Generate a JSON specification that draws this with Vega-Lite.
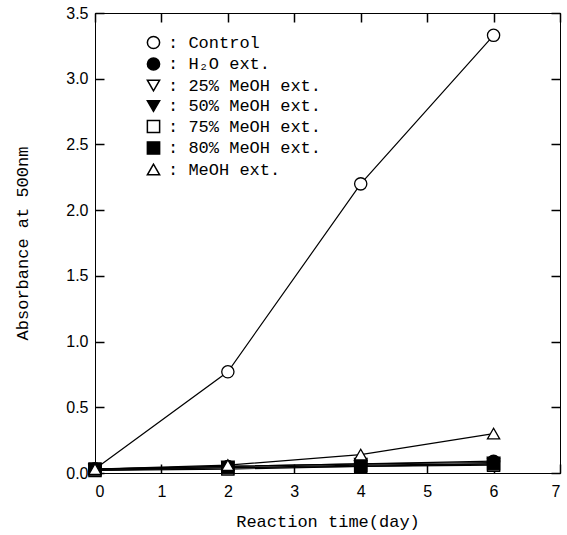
{
  "$schema": "https://vega.github.io/schema/vega-lite/v6.json",
  "width": 465,
  "height": 460,
  "autosize": {"type": "none"},
  "padding": {"left": 95, "top": 13, "right": 7, "bottom": 62},
  "background": "white",
  "config": {
    "view": {"stroke": "black", "strokeWidth": 1},
    "axis": {
      "grid": false,
      "ticks": true,
      "zindex": 1,
      "domainColor": "black",
      "tickColor": "black",
      "tickOpacity": 1,
      "tickWidth": 1.5,
      "tickSize": -9,
      "labelPadding": 16,
      "labelFont": "Liberation Sans",
      "labelFontSize": 16,
      "labelColor": "black",
      "titleFont": "Liberation Mono",
      "titleFontSize": 17,
      "titleFontWeight": "normal",
      "titleColor": "black"
    }
  },
  "data": {
    "values": [
      {"series": "Control", "day": 0, "abs": 0.03},
      {"series": "Control", "day": 2, "abs": 0.77},
      {"series": "Control", "day": 4, "abs": 2.2},
      {"series": "Control", "day": 6, "abs": 3.33},
      {"series": "H₂O ext.", "day": 0, "abs": 0.03},
      {"series": "H₂O ext.", "day": 2, "abs": 0.05},
      {"series": "H₂O ext.", "day": 4, "abs": 0.07},
      {"series": "H₂O ext.", "day": 6, "abs": 0.09},
      {"series": "25% MeOH ext.", "day": 0, "abs": 0.02},
      {"series": "25% MeOH ext.", "day": 2, "abs": 0.04},
      {"series": "25% MeOH ext.", "day": 4, "abs": 0.05},
      {"series": "25% MeOH ext.", "day": 6, "abs": 0.07},
      {"series": "50% MeOH ext.", "day": 0, "abs": 0.03},
      {"series": "50% MeOH ext.", "day": 2, "abs": 0.05},
      {"series": "50% MeOH ext.", "day": 4, "abs": 0.07},
      {"series": "50% MeOH ext.", "day": 6, "abs": 0.08},
      {"series": "75% MeOH ext.", "day": 0, "abs": 0.02},
      {"series": "75% MeOH ext.", "day": 2, "abs": 0.03},
      {"series": "75% MeOH ext.", "day": 4, "abs": 0.05},
      {"series": "75% MeOH ext.", "day": 6, "abs": 0.06},
      {"series": "80% MeOH ext.", "day": 0, "abs": 0.03},
      {"series": "80% MeOH ext.", "day": 2, "abs": 0.04},
      {"series": "80% MeOH ext.", "day": 4, "abs": 0.06},
      {"series": "80% MeOH ext.", "day": 6, "abs": 0.07},
      {"series": "MeOH ext.", "day": 0, "abs": 0.03},
      {"series": "MeOH ext.", "day": 2, "abs": 0.06},
      {"series": "MeOH ext.", "day": 4, "abs": 0.14},
      {"series": "MeOH ext.", "day": 6, "abs": 0.3}
    ]
  },
  "layer": [
    {
      "mark": {"type": "line", "color": "black", "strokeWidth": 1.2},
      "encoding": {
        "x": {"field": "day", "type": "quantitative", "scale": {"domain": [0, 7], "nice": false}, "axis": null},
        "y": {"field": "abs", "type": "quantitative", "scale": {"domain": [0, 3.5], "nice": false}, "axis": null},
        "detail": {"field": "series"}
      }
    },
    {
      "mark": {"type": "point", "stroke": "black", "strokeWidth": 1.3, "opacity": 1, "filled": false, "size": 150},
      "encoding": {
        "x": {"field": "day", "type": "quantitative", "scale": {"domain": [0, 7], "nice": false},
          "axis": {"orient": "bottom", "title": "Reaction time(day)", "values": [0,1,2,3,4,5,6,7], "format": "d", "labelPadding": 19, "titlePadding": 14}},
        "y": {"field": "abs", "type": "quantitative", "scale": {"domain": [0, 3.5], "nice": false},
          "axis": {"orient": "left", "title": "Absorbance at 500nm", "values": [0,0.5,1,1.5,2,2.5,3,3.5], "format": ".1f", "titlePadding": 34}},
        "shape": {
          "field": "series", "type": "nominal",
          "scale": {
            "domain": ["Control", "H₂O ext.", "25% MeOH ext.", "50% MeOH ext.", "75% MeOH ext.", "80% MeOH ext.", "MeOH ext."],
            "range": ["circle", "circle", "triangle-down", "triangle-down", "square", "square", "triangle-up"]
          },
          "legend": {
            "orient": "none", "legendX": 50, "legendY": 21, "title": null,
            "labelExpr": "': ' + datum.label",
            "labelFont": "Liberation Mono", "labelFontSize": 17, "labelColor": "black",
            "symbolSize": 150, "rowPadding": 2.5, "labelOffset": 6, "padding": 0,
            "encode": {"symbols": {"update": {"stroke": {"value": "black"}, "strokeWidth": {"value": 1.3}}}}
          }
        },
        "fill": {
          "field": "series", "type": "nominal",
          "scale": {
            "domain": ["Control", "H₂O ext.", "25% MeOH ext.", "50% MeOH ext.", "75% MeOH ext.", "80% MeOH ext.", "MeOH ext."],
            "range": ["white", "black", "white", "black", "white", "black", "white"]
          },
          "legend": {
            "orient": "none", "legendX": 50, "legendY": 21, "title": null,
            "labelExpr": "': ' + datum.label",
            "labelFont": "Liberation Mono", "labelFontSize": 17, "labelColor": "black",
            "symbolSize": 150, "rowPadding": 2.5, "labelOffset": 6, "padding": 0,
            "encode": {"symbols": {"update": {"stroke": {"value": "black"}, "strokeWidth": {"value": 1.3}}}}
          }
        }
      }
    },
    {
      "mark": {"type": "point", "opacity": 0},
      "encoding": {
        "x": {"field": "day", "type": "quantitative", "scale": {"domain": [0, 7], "nice": false},
          "axis": {"orient": "top", "title": null, "labels": false, "values": [0,1,2,3,4,5,6,7]}},
        "y": {"field": "abs", "type": "quantitative", "scale": {"domain": [0, 3.5], "nice": false},
          "axis": {"orient": "right", "title": null, "labels": false, "values": [0,0.5,1,1.5,2,2.5,3,3.5]}}
      }
    }
  ],
  "resolve": {"axis": {"x": "independent", "y": "independent"}}
}
